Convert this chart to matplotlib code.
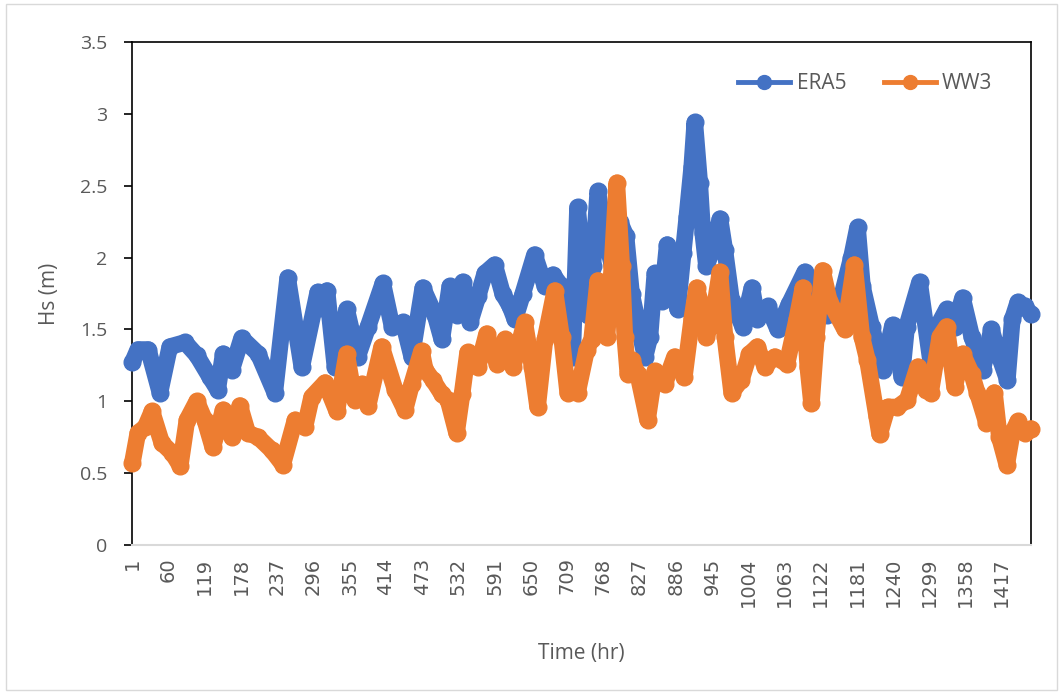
import matplotlib
matplotlib.use("Agg")
import matplotlib.pyplot as plt
from matplotlib.lines import Line2D
from matplotlib.patches import Rectangle

# hours (category index) and Hs values
n_hours = 1464
tick_hours = list(range(1, n_hours + 1, 59))

era5_hr = [1, 10, 27, 46, 62, 87, 106, 127, 140, 149, 163, 179, 206, 233, 254,
           277, 303, 310, 318, 331, 350, 368, 385, 409, 424, 442, 456, 474, 494,
           505, 518, 529, 539, 551, 564, 575, 591, 604, 616, 624, 637, 656, 673,
           686, 700, 710, 718, 726, 735, 743, 751, 759, 770, 782, 795, 805, 814,
           836, 844, 852, 863, 872, 881, 889, 898, 904, 912, 917, 925, 930, 936,
           945, 958, 966, 977, 995, 1010, 1019, 1036, 1052, 1071, 1096, 1107,
           1117, 1133, 1156, 1172, 1182, 1190, 1205, 1223, 1239, 1254, 1262,
           1283, 1301, 1312, 1327, 1340, 1353, 1368, 1386, 1400, 1413, 1426,
           1434, 1443, 1454, 1464]
era5_hs = [1.27, 1.36, 1.36, 1.06, 1.38, 1.41, 1.32, 1.17, 1.08, 1.33, 1.22, 1.44,
           1.33, 1.06, 1.86, 1.24, 1.76, 1.65, 1.77, 1.24, 1.64, 1.31, 1.52, 1.82,
           1.52, 1.55, 1.31, 1.79, 1.60, 1.43, 1.80, 1.60, 1.83, 1.55, 1.73, 1.89,
           1.95, 1.75, 1.66, 1.57, 1.75, 2.02, 1.80, 1.88, 1.80, 1.66, 1.31, 2.35,
           1.94, 1.60, 1.94, 2.46, 2.17, 1.95, 2.25, 2.15, 1.75, 1.31, 1.45, 1.89,
           1.70, 2.09, 1.80, 1.64, 2.03, 2.28, 2.63, 2.94, 2.52, 2.17, 1.94, 2.05,
           2.27, 2.05, 1.70, 1.52, 1.79, 1.57, 1.66, 1.50, 1.68, 1.90, 1.75, 1.66,
           1.60, 1.73, 2.00, 2.21, 1.80, 1.52, 1.22, 1.53, 1.17, 1.52, 1.83, 1.28,
           1.52, 1.64, 1.52, 1.72, 1.45, 1.22, 1.50, 1.31, 1.15, 1.57, 1.69, 1.66,
           1.61]

ww3_hr = [1, 10, 22, 33, 49, 66, 79, 90, 106, 119, 132, 149, 163, 176, 189, 206,
          228, 246, 266, 282, 293, 315, 334, 350, 363, 375, 385, 407, 429, 445,
          456, 472, 478, 490, 505, 515, 529, 538, 547, 564, 578, 595, 608, 621,
          640, 652, 661, 673, 689, 700, 710, 726, 741, 749, 759, 774, 782, 790,
          798, 803, 808, 814, 824, 840, 852, 868, 884, 900, 912, 920, 928, 936,
          946, 958, 966, 977, 993, 1006, 1019, 1031, 1047, 1067, 1083, 1093, 1101,
          1107, 1115, 1125, 1136, 1161, 1177, 1189, 1198, 1213, 1218, 1231, 1247,
          1263, 1280, 1294, 1301, 1316, 1327, 1340, 1353, 1368, 1377, 1392, 1405,
          1413, 1425, 1434, 1443, 1454, 1464]
ww3_hs = [0.57, 0.78, 0.82, 0.93, 0.71, 0.64, 0.55, 0.87, 1.00, 0.87, 0.68, 0.94,
          0.75, 0.97, 0.78, 0.75, 0.66, 0.56, 0.87, 0.82, 1.03, 1.13, 0.93, 1.33,
          1.01, 1.12, 0.97, 1.38, 1.08, 0.94, 1.12, 1.35, 1.22, 1.15, 1.05, 1.01,
          0.78, 1.05, 1.34, 1.24, 1.47, 1.26, 1.43, 1.24, 1.55, 1.24, 0.96, 1.43,
          1.77, 1.45, 1.06, 1.06, 1.36, 1.43, 1.84, 1.45, 1.94, 2.52, 1.94, 1.45,
          1.19, 1.29, 1.19, 0.87, 1.21, 1.12, 1.31, 1.17, 1.57, 1.79, 1.66, 1.45,
          1.57, 1.90, 1.45, 1.06, 1.15, 1.33, 1.38, 1.24, 1.31, 1.26, 1.57, 1.79,
          1.24, 0.99, 1.45, 1.91, 1.70, 1.50, 1.95, 1.45, 1.29, 0.90, 0.77, 0.96,
          0.96, 1.01, 1.24, 1.08, 1.06, 1.45, 1.52, 1.10, 1.33, 1.19, 1.06, 0.85,
          1.06, 0.75, 0.56, 0.78, 0.86, 0.78, 0.81]

blue = "#4472C4"
orange = "#ED7D31"
grey_text = "#595959"

fig = plt.figure(figsize=(10.63, 6.94), dpi=100)
ax = fig.add_axes([132 / 1063, 1 - 545 / 694, (1031 - 132) / 1063, (545 - 42) / 694])

# chart area border
fig.patches.append(Rectangle((6 / 1063, 4 / 694), 1051 / 1063, 686 / 694,
                             transform=fig.transFigure, fill=False,
                             edgecolor="#D9D9D9", linewidth=1))

# thick round-jointed line + markers gives the dense marker band look
ax.plot(era5_hr, era5_hs, color=blue, linewidth=12, marker="o", markersize=12,
        solid_joinstyle="round", solid_capstyle="round", clip_on=False, zorder=3)
ax.plot(ww3_hr, ww3_hs, color=orange, linewidth=12, marker="o", markersize=12,
        solid_joinstyle="round", solid_capstyle="round", clip_on=False, zorder=4)

ax.set_xlim(0.5, n_hours + 0.5)
ax.set_ylim(0, 3.5)
ax.set_yticks([0, 0.5, 1, 1.5, 2, 2.5, 3, 3.5])
ax.set_yticklabels(["0", "0.5", "1", "1.5", "2", "2.5", "3", "3.5"],
                   fontsize=14, color=grey_text, family="Open Sans")
ax.set_xticks(tick_hours)
ax.set_xticklabels([str(h) for h in tick_hours], rotation=90, fontsize=14,
                   color=grey_text, family="DejaVu Sans")
ax.tick_params(axis="y", direction="out", length=6, width=1.2, color="black", pad=12)
ax.tick_params(axis="x", length=0, pad=9)

for side in ["left", "top", "right"]:
    ax.spines[side].set_color("black")
    ax.spines[side].set_linewidth(1.2)
ax.spines["bottom"].set_color("#D9D9D9")
ax.spines["bottom"].set_linewidth(1.5)

ax.set_xlabel("Time (hr)", fontsize=15, color=grey_text, family="Open Sans", labelpad=26)
ax.set_ylabel("Hs (m)", fontsize=15, color=grey_text, family="Open Sans", labelpad=14)

handles = [Line2D([], [], color=blue, linewidth=3.5, marker="o", markersize=10),
           Line2D([], [], color=orange, linewidth=3.5, marker="o", markersize=10)]
leg = ax.legend(handles, ["ERA5", "WW3"], loc="upper right", bbox_to_anchor=(0.978, 0.975),
                ncol=2, frameon=False, handlelength=2.5,
                columnspacing=1.8, handletextpad=0.3,
                prop={"family": "Open Sans", "size": 15})
for t in leg.get_texts():
    t.set_color(grey_text)

fig.savefig("out.png", dpi=100)
